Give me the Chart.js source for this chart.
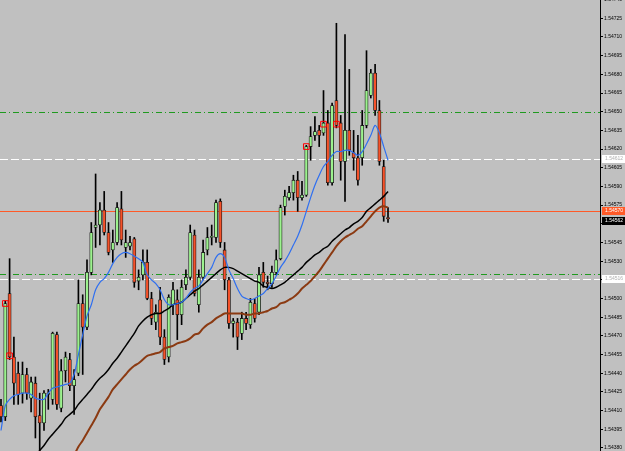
<!DOCTYPE html>
<html>
<head>
<meta charset="utf-8">
<script src="https://cdn.jsdelivr.net/npm/chart.js@4.4.0/dist/chart.umd.min.js"></script>
<style>
    html, body { margin: 0; padding: 0; background: #c0c0c0; }
    #wrap { width: 625px; height: 451px; }
</style>
</head>
<body>
<div id="wrap"><canvas id="priceChart"></canvas></div>
<script>
// OHLC por vela (índice = barra)
const opens = [1.54414,1.54405,1.54504,1.54453,1.54440,1.54424,1.54439,1.54420,1.54432,1.54406,
    1.54400,1.54423,1.54419,1.54471,1.54412,1.54442,1.54451,1.54430,1.54440,1.54496,
    1.54477,1.54521,1.54557,1.54559,1.54571,1.54553,1.54539,1.54545,1.54572,1.54541,
    1.54542,1.54548,1.54514,1.54519,1.54529,1.54500,1.54481,1.54499,1.54469,1.54453,
    1.54495,1.54499,1.54487,1.54511,1.54517,1.54551,1.54495,1.54517,1.54539,1.54549,
    1.54549,1.54578,1.54539,1.54515,1.54480,1.54481,1.54472,1.54484,1.54479,1.54496,
    1.54489,1.54521,1.54513,1.54512,1.54521,1.54532,1.54574,1.54581,1.54585,1.54595,
    1.54581,1.54583,1.54622,1.54631,1.54635,1.54633,1.54641,1.54593,1.54659,1.54641,
    1.54610,1.54635,1.54617,1.54613,1.54613,1.54639,1.54663,1.54681,1.54651,1.54606,
    1.54565];
const closes = [1.54405,1.54496,1.54453,1.54432,1.54423,1.54439,1.54424,1.54433,1.54405,1.54400,
    1.54424,1.54424,1.54472,1.54415,1.54442,1.54453,1.54430,1.54435,1.54496,1.54477,
    1.54521,1.54553,1.54559,1.54571,1.54553,1.54537,1.54545,1.54573,1.54547,1.54545,
    1.54545,1.54513,1.54517,1.54529,1.54500,1.54484,1.54489,1.54469,1.54451,1.54501,
    1.54507,1.54487,1.54509,1.54517,1.54553,1.54504,1.54517,1.54537,1.54549,1.54550,
    1.54577,1.54545,1.54515,1.54480,1.54482,1.54469,1.54484,1.54480,1.54497,1.54484,
    1.54519,1.54513,1.54512,1.54521,1.54531,1.54573,1.54582,1.54585,1.54595,1.54581,
    1.54583,1.54622,1.54630,1.54634,1.54631,1.54641,1.54593,1.54655,1.54639,1.54610,
    1.54635,1.54619,1.54613,1.54595,1.54639,1.54667,1.54681,1.54651,1.54610,1.54566,
    1.54564];
const highs = [1.54419,1.54498,1.54532,1.54469,1.54449,1.54449,1.54444,1.54437,1.54437,1.54424,
    1.54426,1.54427,1.54473,1.54473,1.54451,1.54457,1.54456,1.54443,1.54515,1.54503,
    1.54531,1.54561,1.54600,1.54577,1.54586,1.54561,1.54555,1.54577,1.54586,1.54555,
    1.54550,1.54549,1.54523,1.54539,1.54539,1.54505,1.54495,1.54509,1.54475,1.54503,
    1.54513,1.54507,1.54515,1.54523,1.54559,1.54555,1.54523,1.54547,1.54557,1.54559,
    1.54579,1.54580,1.54545,1.54517,1.54484,1.54484,1.54489,1.54489,1.54500,1.54500,
    1.54525,1.54529,1.54518,1.54526,1.54539,1.54575,1.54587,1.54590,1.54599,1.54602,
    1.54594,1.54623,1.54638,1.54646,1.54639,1.54667,1.54651,1.54657,1.54721,1.54647,
    1.54712,1.54684,1.54635,1.54631,1.54651,1.54699,1.54684,1.54688,1.54659,1.54611,
    1.54573];
const lows = [1.54401,1.54402,1.54451,1.54415,1.54415,1.54416,1.54419,1.54409,1.54388,1.54378,
    1.54394,1.54411,1.54415,1.54411,1.54409,1.54433,1.54426,1.54407,1.54438,1.54439,
    1.54475,1.54519,1.54541,1.54543,1.54551,1.54535,1.54529,1.54543,1.54543,1.54533,
    1.54539,1.54509,1.54507,1.54515,1.54499,1.54479,1.54475,1.54463,1.54447,1.54449,
    1.54487,1.54467,1.54479,1.54507,1.54515,1.54502,1.54489,1.54515,1.54535,1.54543,
    1.54545,1.54541,1.54507,1.54476,1.54469,1.54459,1.54467,1.54475,1.54476,1.54481,
    1.54487,1.54509,1.54507,1.54509,1.54519,1.54531,1.54567,1.54579,1.54579,1.54570,
    1.54579,1.54582,1.54611,1.54627,1.54622,1.54631,1.54591,1.54591,1.54637,1.54595,
    1.54578,1.54615,1.54603,1.54591,1.54607,1.54637,1.54661,1.54647,1.54607,1.54562,
    1.54561];

// Medias móviles
const maFast = [1.54394,1.54414,1.54419,1.54422,1.54423,1.54424,1.54424,1.54423,1.54420,1.54419,
    1.54419,1.54424,1.54428,1.54429,1.54430,1.54431,1.54432,1.54439,1.54455,1.54471,
    1.54486,1.54495,1.54507,1.54513,1.54516,1.54521,1.54528,1.54533,1.54536,1.54537,
    1.54536,1.54534,1.54532,1.54529,1.54519,1.54515,1.54512,1.54507,1.54499,1.54495,
    1.54495,1.54496,1.54497,1.54500,1.54505,1.54508,1.54510,1.54515,1.54520,1.54525,
    1.54533,1.54536,1.54533,1.54523,1.54516,1.54508,1.54502,1.54500,1.54499,1.54500,
    1.54502,1.54504,1.54508,1.54512,1.54518,1.54525,1.54530,1.54536,1.54543,1.54550,
    1.54559,1.54570,1.54581,1.54591,1.54599,1.54606,1.54610,1.54615,1.54618,1.54618,
    1.54619,1.54619,1.54617,1.54615,1.54618,1.54624,1.54631,1.54639,1.54633,1.54622,
    1.54611];
const maMid = [null,null,null,null,null,null,null,null,1.54373,1.54378,
    1.54382,1.54387,1.54391,1.54395,1.54399,1.54404,1.54407,1.54410,1.54415,1.54419,
    1.54423,1.54427,1.54432,1.54436,1.54439,1.54443,1.54448,1.54452,1.54457,1.54462,
    1.54467,1.54472,1.54478,1.54482,1.54485,1.54487,1.54488,1.54488,1.54490,1.54492,
    1.54495,1.54496,1.54497,1.54500,1.54503,1.54506,1.54508,1.54511,1.54514,1.54517,
    1.54520,1.54523,1.54525,1.54525,1.54524,1.54522,1.54520,1.54518,1.54516,1.54514,
    1.54513,1.54510,1.54509,1.54508,1.54509,1.54511,1.54513,1.54516,1.54519,1.54522,
    1.54525,1.54529,1.54532,1.54535,1.54537,1.54540,1.54542,1.54546,1.54549,1.54552,
    1.54555,1.54557,1.54560,1.54562,1.54565,1.54570,1.54573,1.54576,1.54579,1.54582,
    1.54586];
const maSlow = [null,null,null,null,null,null,null,null,null,null,
    null,null,null,null,null,null,null,1.54374,1.54381,1.54386,
    1.54392,1.54398,1.54404,1.54411,1.54416,1.54421,1.54427,1.54431,1.54435,1.54439,
    1.54443,1.54446,1.54448,1.54451,1.54454,1.54455,1.54456,1.54457,1.54460,1.54461,
    1.54462,1.54464,1.54465,1.54466,1.54468,1.54471,1.54472,1.54476,1.54479,1.54481,
    1.54484,1.54486,1.54488,1.54488,1.54488,1.54488,1.54488,1.54487,1.54487,1.54488,
    1.54488,1.54489,1.54490,1.54492,1.54493,1.54496,1.54497,1.54499,1.54501,1.54504,
    1.54508,1.54511,1.54514,1.54518,1.54522,1.54527,1.54532,1.54537,1.54542,1.54546,
    1.54549,1.54551,1.54553,1.54556,1.54558,1.54562,1.54566,1.54570,1.54573,1.54574,
    1.54573];

// Marcas rojas (barra, precio)
const markBars = [1, 2, 71, 75, 78];
const markPrices = [1.54496, 1.54454, 1.54622, 1.54640, 1.54640];

// Niveles horizontales y etiquetas del eje
const levelPrices = [1.54650, 1.54520, 1.54612, 1.54516, 1.54570];
const tagPrices = [1.54612, 1.54570, 1.54562, 1.54516];
const tickValues = [1.54740, 1.54725, 1.54710, 1.54695, 1.54680, 1.54665, 1.54650, 1.54635,
    1.54620, 1.54605, 1.54590, 1.54575, 1.54560, 1.54545, 1.54530, 1.54515, 1.54500, 1.54485,
    1.54470, 1.54455, 1.54440, 1.54425, 1.54410, 1.54395, 1.54380];

const UP = '#9cf28e';
const DOWN = '#f5522a';
const levelStyles = [
    { color: '#1f9a1f', dash: [6, 3, 1, 3] },
    { color: '#1f9a1f', dash: [6, 3, 1, 3] },
    { color: '#ffffff', dash: [8, 3] },
    { color: '#ffffff', dash: [8, 3] },
    { color: '#ff5a28', dash: [] }
];
const tagStyles = [
    { bg: '#ffffff', fg: '#b0b0b0' },
    { bg: '#ff5a28', fg: '#ffffff' },
    { bg: '#000000', fg: '#ffffff' },
    { bg: '#ffffff', fg: '#b0b0b0' }
];

const isUp = opens.map((o, i) => closes[i] >= o);

// Líneas horizontales y etiquetas de precio
const overlay = {
    id: 'overlay',
    beforeDatasetsDraw(chart) {
        const { ctx, chartArea: a, scales: { y } } = chart;
        ctx.save();
        levelPrices.forEach((v, k) => {
            const py = Math.round(y.getPixelForValue(v)) + 0.5;
            ctx.strokeStyle = levelStyles[k].color;
            ctx.setLineDash(levelStyles[k].dash);
            ctx.lineWidth = 1;
            ctx.beginPath();
            ctx.moveTo(a.left, py);
            ctx.lineTo(a.right, py);
            ctx.stroke();
        });
        ctx.restore();
    },
    afterDraw(chart) {
        const { ctx, chartArea: a, scales: { y } } = chart;
        ctx.save();
        ctx.font = '5px "Liberation Sans"';
        ctx.textBaseline = 'middle';
        tagPrices.forEach((v, k) => {
            const py = Math.round(y.getPixelForValue(v));
            ctx.fillStyle = tagStyles[k].bg;
            ctx.fillRect(a.right + 2, py - 4, chart.width - a.right - 2, 8);
            ctx.fillStyle = tagStyles[k].fg;
            ctx.fillText(v.toFixed(5), a.right + 5, py);
        });
        ctx.restore();
    }
};

new Chart(document.getElementById('priceChart'), {
    type: 'bar',
    data: {
        datasets: [{
            type: 'line',
            label: 'MA rápida',
            data: maFast.map((v, i) => ({ x: i, y: v })),
            borderColor: '#2f6ff0',
            borderWidth: 1.2,
            pointRadius: 0,
            tension: 0.3,
            order: 0
        }, {
            type: 'line',
            label: 'MA media',
            data: maMid.map((v, i) => ({ x: i, y: v })),
            borderColor: '#000000',
            borderWidth: 1.5,
            pointRadius: 0,
            tension: 0.3,
            order: 0
        }, {
            type: 'line',
            label: 'MA lenta',
            data: maSlow.map((v, i) => ({ x: i, y: v })),
            borderColor: '#8b3a12',
            borderWidth: 2,
            pointRadius: 0,
            tension: 0.3,
            order: 0
        }, {
            type: 'line',
            label: 'Marcas',
            data: markBars.map((b, i) => ({ x: b, y: markPrices[i] })),
            showLine: false,
            pointStyle: 'rect',
            pointRadius: 4,
            pointBorderColor: '#ff0000',
            pointBackgroundColor: 'rgba(0,0,0,0)',
            pointBorderWidth: 1,
            order: -1
        }, {
            label: 'Cuerpos',
            data: opens.map((o, i) => ({ x: i, y: [Math.min(o, closes[i]), Math.max(o, closes[i])] })),
            backgroundColor: isUp.map(u => u ? UP : DOWN),
            borderColor: '#1a1a1a',
            borderWidth: 0.8,
            borderSkipped: false,
            barThickness: 3.2,
            minBarLength: 1,
            grouped: false,
            order: 1
        }, {
            label: 'Mechas',
            data: opens.map((o, i) => ({ x: i, y: [lows[i], highs[i]] })),
            backgroundColor: '#000000',
            barThickness: 1,
            grouped: false,
            order: 2
        }]
    },
    options: {
        responsive: true,
        maintainAspectRatio: false,
        animation: false,
        layout: { padding: 0, autoPadding: false },
        plugins: {
            legend: { display: false },
            tooltip: { enabled: false }
        },
        scales: {
            x: {
                type: 'linear',
                display: false,
                offset: false,
                min: -0.233,
                max: 139.3
            },
            y: {
                position: 'right',
                min: 1.5437755,
                max: 1.547397,
                border: { display: true, color: '#000000', width: 1 },
                grid: { drawOnChartArea: false, tickLength: 3, color: '#000000' },
                ticks: {
                    color: '#000000',
                    padding: 1,
                    font: { family: 'Liberation Sans', size: 5 },
                    callback: v => v.toFixed(5)
                },
                afterBuildTicks: axis => { axis.ticks = tickValues.map(v => ({ value: v })); },
                afterFit: axis => {
                    axis.width = 25;
                    axis.paddingTop = 0;
                    axis.paddingBottom = 0;
                }
            }
        }
    },
    plugins: [overlay]
});
</script>
</body>
</html>
